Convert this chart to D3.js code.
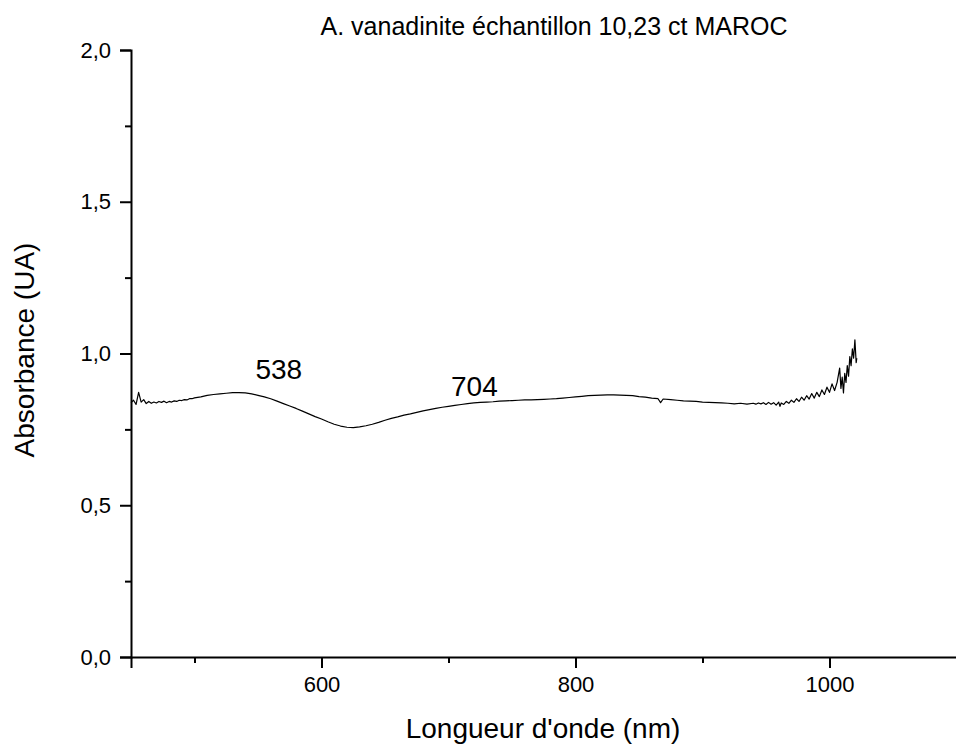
<!DOCTYPE html>
<html>
<head>
<meta charset="utf-8">
<script src="https://cdn.jsdelivr.net/npm/d3@7"></script>
<style>
  html, body { margin: 0; padding: 0; background: #fff; }
  svg { display: block; }
  text { font-family: "Liberation Sans", Arial, sans-serif; fill: #000; }
</style>
</head>
<body>
<svg id="chart" width="956" height="749"></svg>
<script>
// ---- data ----
const title = "A. vanadinite échantillon 10,23 ct MAROC";
const xLabel = "Longueur d'onde (nm)";
const yLabel = "Absorbance (UA)";
const xMajorTicks = [600, 800, 1000];
const xMinorTicks = [500, 700, 900, 1100];
const yMajorTicks = [0, 0.5, 1.0, 1.5, 2.0];
const yMinorTicks = [0.25, 0.75, 1.25, 1.75];
const annotations = [
  { label: "538", x: 548, y: 0.915 },
  { label: "704", x: 702, y: 0.860 }
];
const wavelength = [
  450,452,454,456,458,460,462,464,466,468,470,472,474,476,478,480,482,484,486,488,490,492,494,496,498,500,
  505,510,515,520,525,530,535,540,545,550,555,560,565,570,575,580,585,590,595,600,605,610,615,620,625,630,
  635,640,645,650,655,660,665,670,675,680,685,690,695,700,705,710,715,720,725,730,735,740,745,750,755,760,
  765,770,775,780,785,790,795,800,805,810,815,820,825,830,835,840,845,850,855,860,865,867,869,875,880,885,
  890,895,900,905,910,915,920,925,930,935,940,
  942,944,946,948,950,952,954,956,958,960,961,962,964,966,968,970,972,974,976,978,980,982,984,986,988,990,
  992,994,996,998,1000,1002,1004,1006,1008,1009,1010,1011,1012,1013,1014,1015,1016,1017,1018,1019,1020,1021,1021.5
];
const absorbance = [
  0.838,0.846,0.832,0.872,0.840,0.848,0.835,0.842,0.836,0.840,0.837,0.842,0.839,0.843,0.838,0.842,0.840,0.844,0.842,0.846,0.845,0.848,0.847,0.851,0.851,0.854,
  0.857,0.862,0.865,0.867,0.869,0.871,0.871,0.870,0.867,0.862,0.857,0.851,0.843,0.835,0.827,0.819,0.810,0.801,0.792,0.784,0.775,0.767,0.761,0.757,0.756,0.758,
  0.762,0.767,0.773,0.780,0.786,0.791,0.797,0.801,0.806,0.811,0.815,0.819,0.823,0.826,0.829,0.832,0.835,0.837,0.839,0.840,0.841,0.843,0.844,0.845,0.846,0.847,
  0.847,0.848,0.849,0.850,0.851,0.853,0.855,0.857,0.859,0.861,0.862,0.863,0.864,0.864,0.863,0.862,0.861,0.858,0.856,0.853,0.851,0.838,0.850,0.848,0.846,0.844,
  0.843,0.842,0.840,0.839,0.838,0.837,0.836,0.834,0.836,0.833,0.836,
  0.833,0.837,0.834,0.838,0.832,0.839,0.833,0.838,0.830,0.840,0.826,0.837,0.832,0.842,0.836,0.846,0.839,0.851,0.842,0.856,0.846,0.861,0.850,0.868,0.853,0.872,
  0.858,0.880,0.865,0.889,0.872,0.900,0.878,0.905,0.952,0.885,0.922,0.870,0.935,0.905,0.960,0.925,0.990,0.960,1.015,0.985,1.045,0.970,0.985
];

// ---- layout ----
const svg = d3.select("#chart");
const x = d3.scaleLinear().domain([450, 1100]).range([131, 956.5]);
const y = d3.scaleLinear().domain([0, 2]).range([657, 50]);

// spectrum
const series = wavelength.map((w, i) => ({ w, a: absorbance[i] }));
svg.append("path")
  .datum(series)
  .attr("fill", "none")
  .attr("stroke", "#000")
  .attr("stroke-width", 1.2)
  .attr("stroke-linejoin", "round")
  .attr("d", d3.line().x(d => x(d.w)).y(d => y(d.a)));

// x axis
const xAxisG = svg.append("g").attr("transform", `translate(0,${y(0)})`);
xAxisG.call(d3.axisBottom(x).tickValues(xMajorTicks).tickSize(11).tickPadding(8).tickFormat(d3.format("d")));
const xMinorG = svg.append("g").attr("transform", `translate(0,${y(0)})`);
xMinorG.call(d3.axisBottom(x).tickValues(xMinorTicks).tickSize(6).tickFormat(""));
xMinorG.select(".domain").remove();

// y axis
const yFmt = d => d3.format(".1f")(d).replace(".", ",");
const yAxisG = svg.append("g").attr("transform", `translate(${x(450)},0)`);
yAxisG.call(d3.axisLeft(y).tickValues(yMajorTicks).tickSize(11).tickPadding(9).tickFormat(yFmt));
const yMinorG = svg.append("g").attr("transform", `translate(${x(450)},0)`);
yMinorG.call(d3.axisLeft(y).tickValues(yMinorTicks).tickSize(6).tickFormat(""));
yMinorG.select(".domain").remove();

svg.selectAll(".domain").attr("stroke", "#000").attr("stroke-width", 2);
svg.selectAll(".tick line").attr("stroke", "#000").attr("stroke-width", 2);
svg.selectAll(".tick text")
  .attr("font-family", "Liberation Sans, Arial, sans-serif")
  .attr("font-size", 22)
  .attr("fill", "#000");

// axis titles
svg.append("text")
  .attr("x", 543).attr("y", 738)
  .attr("text-anchor", "middle")
  .attr("font-size", 28)
  .text(xLabel);
svg.append("text")
  .attr("transform", `translate(34,350) rotate(-90)`)
  .attr("text-anchor", "middle")
  .attr("font-size", 28)
  .text(yLabel);

// chart title
svg.append("text")
  .attr("x", 554).attr("y", 35)
  .attr("text-anchor", "middle")
  .attr("font-size", 25)
  .text(title);

// peak annotations
svg.selectAll(".annot")
  .data(annotations)
  .enter().append("text")
  .attr("class", "annot")
  .attr("x", d => x(d.x))
  .attr("y", d => y(d.y))
  .attr("text-anchor", "start")
  .attr("font-size", 28)
  .text(d => d.label);
</script>
</body>
</html>
